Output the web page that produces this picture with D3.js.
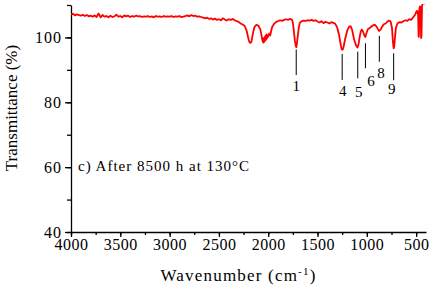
<!DOCTYPE html>
<html>
<head>
<meta charset="utf-8">
<script src="https://cdn.jsdelivr.net/npm/d3@7"></script>
<style>
  body { margin: 0; background: #fff; }
  svg text { font-family: "Liberation Serif", "Times New Roman", serif !important; fill: #000; }
  .axis path, .axis line { stroke: #000; stroke-width: 1.3; }
</style>
</head>
<body>
<div id="chart"></div>
<script>
// spectrum (wavenumber cm-1, transmittance %)
var wavenumber = [4000,3980,3960,3940,3920,3900,3880,3860,3840,3820,3800,3780,3760,3740,3720,3700,3680,3660,3640,3620,
  3600,3580,3560,3540,3520,3500,3480,3460,3440,3420,3400,3380,3360,3340,3320,3300,3280,3260,3240,3220,
  3200,3180,3160,3140,3120,3100,3080,3060,3040,3020,3000,2980,2960,2940,2920,2900,2880,2860,2840,2820,
  2800,2780,2760,2740,2720,2700,2680,2660,2640,2620,2600,2580,2560,2540,2520,2500,2480,2460,2440,2420,
  2400,2380,2360,2340,2320,2300,2280,2260,2240,2220,2200,2190,2180,2170,2160,2140,2120,2100,2080,2070,
  2060,2050,2045,2040,2035,2030,2025,2020,2015,2010,2000,1990,1980,1970,1960,1940,1920,1900,1880,1860,
  1840,1820,1800,1780,1760,1750,1740,1730,1720,1715,1710,1700,1690,1680,1660,1640,1620,1600,1580,1560,
  1540,1520,1500,1480,1460,1440,1420,1400,1380,1360,1340,1320,1300,1280,1265,1255,1245,1235,1220,1200,
  1180,1165,1150,1130,1110,1095,1085,1070,1060,1050,1040,1025,1015,1005,990,975,960,940,920,905,
  890,875,860,845,830,810,790,775,760,745,735,728,722,715,705,690,670,650,630,610,
  590,570,550,530,510,500,490,480,475,472,468,462,455,450,446,440,434,430,425,420,414,410];
var transmittance = [107.0,107.3,106.8,107.1,106.9,106.7,107.0,106.6,106.9,106.5,106.7,106.4,106.8,106.3,107.4,106.2,106.9,106.4,106.6,106.2,
  106.7,106.3,106.5,107.0,106.4,106.6,106.2,106.8,106.5,106.7,106.3,106.6,106.4,106.7,106.5,106.6,106.3,106.5,106.4,106.6,
  106.3,106.5,106.2,106.6,106.4,106.5,106.3,106.6,106.4,106.5,106.4,106.6,106.3,106.5,106.4,106.6,106.3,106.4,106.6,106.8,
  106.5,106.9,106.6,106.7,106.4,106.5,106.3,106.1,105.9,106.1,105.7,105.9,105.5,105.8,105.4,105.6,105.3,105.9,105.5,105.2,
  105.6,105.4,105.7,105.3,105.0,104.8,104.3,104.0,103.6,102.2,99.5,98.5,98.3,98.6,100.5,103.2,103.9,103.6,102.5,101.0,
  99.2,98.4,99.8,98.6,100.2,99.0,100.6,99.4,100.9,99.8,100.4,101.2,100.6,102.0,103.2,104.2,104.8,105.0,105.3,105.1,
  105.4,105.6,105.4,105.7,105.5,104.5,102.0,99.0,97.3,97.0,97.8,100.5,103.0,104.5,105.0,105.2,105.1,105.3,105.2,105.4,
  105.1,105.3,104.9,104.6,105.0,104.4,104.8,104.6,104.3,104.7,104.5,104.2,103.0,100.5,97.8,96.3,96.2,97.2,99.5,102.0,
  103.3,103.5,102.4,99.5,97.6,96.9,97.8,100.6,102.0,102.4,101.9,100.6,100.1,101.2,102.5,102.8,103.2,103.7,103.9,103.5,
  102.7,102.0,102.4,103.3,104.0,104.3,104.9,105.2,105.0,103.0,98.5,96.6,97.2,99.8,103.0,104.3,104.7,104.6,105.0,105.3,
  105.1,105.6,105.4,106.2,107.0,107.8,108.2,107.0,100.2,100.4,108.5,109.6,109.2,99.8,100.2,109.8,110.4,110.5,110.5,110.5,110.5,110.5];

var xTicks = [4000,3500,3000,2500,2000,1500,1000,500];
var yTicks = [40,60,80,100];

// marked bands
var peakLabels = ['1','4','5','6','8','9'];
var peakWn     = [1716,1250,1092,1014,873,728];
var peakTop    = [96.3,94.9,95.6,98.2,100.5,95.1];
var peakBottom = [88.4,86.9,87.4,90.5,92.5,86.8];
var labelWn    = [1716,1244,1082,957,856,748];
var labelT     = [85.0,83.5,83.3,86.6,89.2,84.3];

var note = 'c) After 8500 h at 130°C';

var width = 435, height = 289;
var margin = {left: 71, right: 9, top: 5, bottom: 57};
var serif = '"Liberation Serif", "Times New Roman", serif';

var svg = d3.select('#chart').append('svg')
  .attr('width', width)
  .attr('height', height)
  .attr('font-family', serif);

var x = d3.scaleLinear().domain([4000, 400]).range([margin.left, width - margin.right]);
var y = d3.scaleLinear().domain([40, 110]).range([height - margin.bottom, margin.top]);

svg.append('clipPath').attr('id', 'clip')
  .append('rect')
  .attr('x', margin.left).attr('y', margin.top - 1)
  .attr('width', width - margin.left - margin.right + 2)
  .attr('height', height - margin.top - margin.bottom + 1);

// minor ticks first
svg.append('g')
  .attr('class', 'axis')
  .attr('transform', 'translate(0,' + (height - margin.bottom) + ')')
  .call(d3.axisBottom(x).tickValues(d3.range(4000, 399, -250)).tickSize(3).tickFormat(''))
  .select('.domain').remove();

svg.append('g')
  .attr('class', 'axis')
  .attr('transform', 'translate(' + margin.left + ',0)')
  .call(d3.axisLeft(y).tickValues(d3.range(40, 111, 10)).tickSize(4).tickFormat(''))
  .select('.domain').remove();

var xAxis = svg.append('g')
  .attr('class', 'axis')
  .attr('transform', 'translate(0,' + (height - margin.bottom) + ')')
  .call(d3.axisBottom(x).tickValues(xTicks).tickSize(5).tickSizeOuter(0).tickPadding(2).tickFormat(d3.format('d')));
xAxis.attr('font-family', serif);
xAxis.selectAll('text').style('font-size', '16px').style('letter-spacing', '0.5px');

var yAxis = svg.append('g')
  .attr('class', 'axis')
  .attr('transform', 'translate(' + margin.left + ',0)')
  .call(d3.axisLeft(y).tickValues(yTicks).tickSize(6).tickSizeOuter(0).tickPadding(3).tickFormat(d3.format('d')));
yAxis.attr('font-family', serif);
yAxis.selectAll('text').style('font-size', '16px').style('letter-spacing', '1px');

// spectrum
var line = d3.line()
  .x(function(d, i) { return x(wavenumber[i]) })
  .y(function(d) { return y(d) });

svg.append('path')
  .datum(transmittance)
  .attr('clip-path', 'url(#clip)')
  .attr('fill', 'none')
  .attr('stroke', '#ff0000')
  .attr('stroke-width', 1.8)
  .attr('stroke-linejoin', 'round')
  .attr('d', line);

// band markers
var marks = svg.append('g');
peakLabels.forEach(function(lab, i) {
  marks.append('line')
    .attr('x1', x(peakWn[i])).attr('x2', x(peakWn[i]))
    .attr('y1', y(peakTop[i])).attr('y2', y(peakBottom[i]))
    .attr('stroke', '#000').attr('stroke-width', 1);
  marks.append('text')
    .attr('x', x(labelWn[i]))
    .attr('y', y(labelT[i]))
    .attr('dy', '0.35em')
    .attr('text-anchor', 'middle')
    .style('font-size', '15px')
    .text(lab);
});

svg.append('text')
  .attr('x', 78)
  .attr('y', y(60.5))
  .attr('dy', '0.35em')
  .style('font-size', '15px')
  .style('letter-spacing', '1px')
  .text(note);

svg.append('text')
  .attr('x', (margin.left + width - margin.right) / 2 - 10)
  .attr('y', 281)
  .attr('text-anchor', 'middle')
  .style('font-size', '17px')
  .style('letter-spacing', '1.2px')
  .html('Wavenumber (cm<tspan dy="-6" font-size="11px">-1</tspan><tspan dy="6">)</tspan>');

svg.append('text')
  .attr('transform', 'translate(17,108) rotate(-90)')
  .attr('text-anchor', 'middle')
  .style('font-size', '17px')
  .text('Transmittance (%)');
</script>
</body>
</html>
